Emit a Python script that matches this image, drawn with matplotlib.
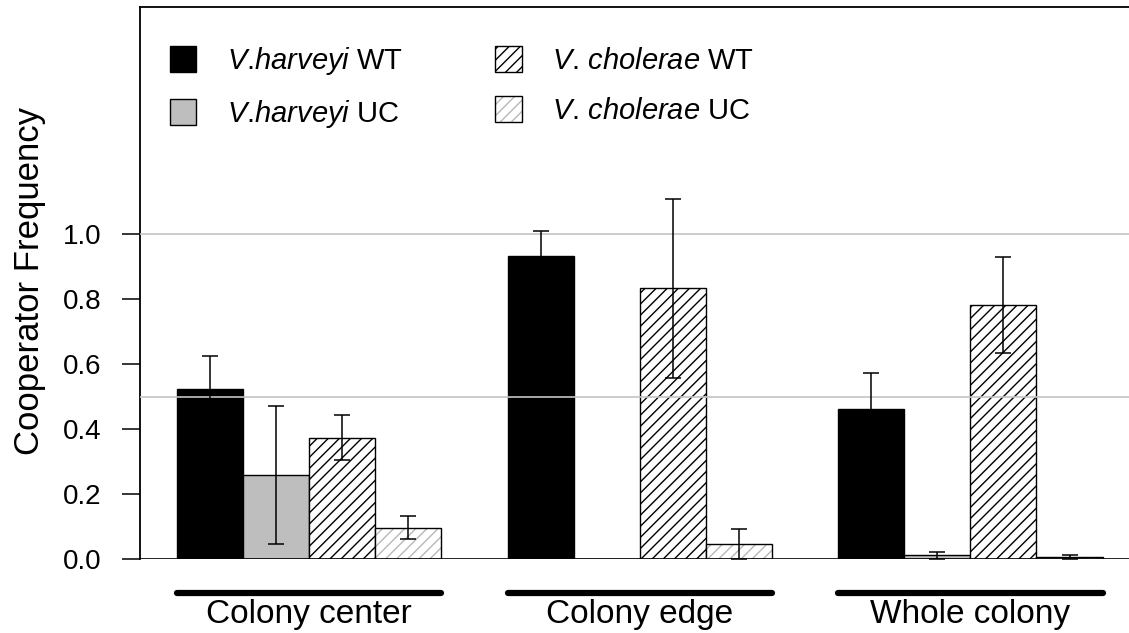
import numpy as np
import matplotlib.pyplot as plt
from matplotlib.patches import Patch

plt.rcParams['font.family'] = 'Liberation Sans'
plt.rcParams['mathtext.fontset'] = 'custom'
plt.rcParams['mathtext.rm'] = 'Liberation Sans'
plt.rcParams['mathtext.it'] = 'Liberation Sans:italic'
plt.rcParams['hatch.linewidth'] = 1.0

# Datos
groups = ['Colony center', 'Colony edge', 'Whole colony']
series = [r'$\it{V}$.$\it{harveyi}$ WT', r'$\it{V}$.$\it{harveyi}$ UC',
          r'$\it{V}$. $\it{cholerae}$ WT', r'$\it{V}$. $\it{cholerae}$ UC']

vh_wt = [0.523, 0.932, 0.461]
vh_wt_err = [0.103, 0.078, 0.113]
vh_uc = [0.259, 0.0, 0.012]
vh_uc_err = [0.213, 0.0, 0.010]
vc_wt = [0.374, 0.833, 0.782]
vc_wt_err = [0.070, 0.275, 0.148]
vc_uc = [0.097, 0.046, 0.007]
vc_uc_err = [0.036, 0.046, 0.006]

gray = '#bebebe'
light = '#b8b8b8'

fig = plt.figure(figsize=(11.29, 6.33), dpi=100)
ax = fig.add_axes([0.124, 0.1164, 0.876, 0.8733])

# barplot estilo R: 4 barras por grupo y un hueco de una barra entre grupos
start = np.arange(len(groups)) * 5 + 1.0
w = 1.0
x = [start + 0.5 + i for i in range(4)]

ax.bar(x[0], vh_wt, w, color='black', edgecolor='black', lw=1, zorder=2)
ax.bar(x[1], vh_uc, w, color=gray, edgecolor='black', lw=1, zorder=2)
ax.bar(x[2], vc_wt, w, color='white', edgecolor='black', hatch='///', lw=1, zorder=2)
ax.bar(x[3], vc_uc, w, color='white', edgecolor=light, hatch='///', lw=0, zorder=2)
ax.bar(x[3], vc_uc, w, fill=False, edgecolor='black', lw=1, zorder=2)

# lineas de referencia
ax.axhline(0.5, color='#c4c4c4', lw=1.2, zorder=3)
ax.axhline(1.0, color='#c4c4c4', lw=1.2, zorder=3)
ax.axhline(0.0, color='black', lw=1.2, zorder=4)

# barras de error (se omiten las de error cero, como hace R)
for xi, vals, err in zip(x, [vh_wt, vh_uc, vc_wt, vc_uc],
                         [vh_wt_err, vh_uc_err, vc_wt_err, vc_uc_err]):
    err = np.array(err)
    keep = err > 0
    ax.errorbar(xi[keep], np.array(vals)[keep], yerr=err[keep], fmt='none',
                ecolor='black', elinewidth=1.1, capsize=5.8, capthick=1.1, zorder=5)

ax.set_xlim(0.44, 15.40)
ax.set_ylim(0, 1.7)
ax.set_xticks([])
ticks = np.arange(0, 1.01, 0.2)
ax.set_yticks(ticks)
ax.set_yticklabels(['%.1f' % t for t in ticks])
ax.tick_params(axis='y', length=13, width=1.1, pad=15, labelsize=20)
ax.spines['right'].set_visible(False)
ax.spines['bottom'].set_visible(False)
ax.spines['left'].set_linewidth(1.3)
ax.spines['top'].set_linewidth(1.3)

# etiquetas de grupo con barra debajo del eje
for g, name in enumerate(groups):
    ax.plot([start[g], start[g] + 4], [-0.104, -0.104], color='black', lw=4.5,
            solid_capstyle='round', clip_on=False)
    ax.text(start[g] + 2, -0.195, name, ha='center', va='baseline',
            fontsize=24, clip_on=False)

fig.text(30 / 1129, 0.556, 'Cooperator Frequency', rotation=90,
         ha='center', va='center', fontsize=25)

handles = [Patch(facecolor='black', edgecolor='black'),
           Patch(facecolor=gray, edgecolor='black'),
           Patch(facecolor='white', edgecolor='black', hatch='///'),
           (Patch(facecolor='white', edgecolor=light, hatch='///', lw=0),
            Patch(fill=False, edgecolor='black'))]
ax.legend(handles, series, ncol=2, loc='upper left', bbox_to_anchor=(0.030, 0.931),
          frameon=False, fontsize=21, handlelength=0.9, handleheight=1.0,
          handletextpad=1.05, columnspacing=3.18, labelspacing=0.72,
          borderpad=0, borderaxespad=0)

fig.savefig('out.png', dpi=100)
